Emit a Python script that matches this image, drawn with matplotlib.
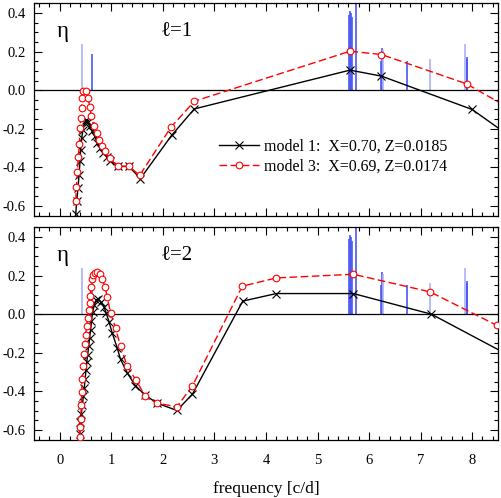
import matplotlib
matplotlib.use("Agg")
import matplotlib.pyplot as plt
from matplotlib.ticker import MultipleLocator, FormatStrFormatter
from matplotlib.lines import Line2D

plt.rcParams['font.family'] = ['Liberation Serif', 'DejaVu Serif']
plt.rcParams['axes.unicode_minus'] = False

# ---------------- data ----------------
# observed frequencies (blue bars): frequency, amplitude, shade (0 = dark, 1 = light)
obs_freq = [0.44, 0.62, 5.615, 5.63, 5.645, 5.66, 5.75, 6.24, 6.25, 6.27, 6.73, 7.19, 7.87, 7.89, 7.90]
obs_amp = [0.24, 0.19, 0.39, 0.41, 0.40, 0.38, 0.50, 0.15, 0.22, 0.21, 0.15, 0.16, 0.24, 0.17, 0.16]
obs_shade = [1, 0, 0, 0, 0, 0, 0, 0, 0, 1, 0, 1, 1, 0, 0]

# l = 1, model 1
l1_m1_f = [0.309, 0.328, 0.354, 0.373, 0.393, 0.405, 0.425, 0.450, 0.482, 0.515, 0.547, 0.585,
           0.631, 0.676, 0.727, 0.779, 0.843, 0.91, 0.98, 1.126, 1.338, 1.564, 2.17, 2.61,
           5.63, 6.24, 8.0, 9.0]
l1_m1_eta = [-0.643, -0.573, -0.507, -0.438, -0.369, -0.308, -0.248, -0.204, -0.170, -0.152, -0.165, -0.187,
             -0.213, -0.239, -0.274, -0.300, -0.326, -0.345, -0.365, -0.395, -0.395, -0.458, -0.234, -0.097,
             0.104, 0.073, -0.100, -0.29]
# l = 1, model 3
l1_m3_f = [0.309, 0.322, 0.341, 0.360, 0.380, 0.393, 0.405, 0.425, 0.438, 0.457, 0.502, 0.547,
           0.585, 0.611, 0.663, 0.714, 0.759, 0.811, 0.869, 0.965, 1.126, 1.338, 1.551, 2.156,
           2.613, 5.63, 6.24, 7.89, 9.0]
l1_m3_eta = [-0.573, -0.504, -0.424, -0.348, -0.279, -0.196, -0.144, -0.092, -0.040, -0.005, -0.002, -0.040,
             -0.088, -0.135, -0.187, -0.222, -0.256, -0.291, -0.317, -0.352, -0.395, -0.395, -0.441, -0.192,
             -0.057, 0.202, 0.185, 0.033, -0.136]
# l = 2, model 1
l2_m1_f = [0.388, 0.400, 0.418, 0.438, 0.457, 0.476, 0.492, 0.508, 0.522, 0.541, 0.560, 0.579,
           0.599, 0.615, 0.637, 0.669, 0.708, 0.747, 0.792, 0.856, 0.901, 0.953, 1.017, 1.113,
           1.178, 1.306, 1.467, 1.66, 1.886, 2.272, 2.574, 3.55, 4.2, 5.695, 7.21, 9.0]
l2_m1_eta = [-0.620, -0.560, -0.515, -0.470, -0.425, -0.380, -0.335, -0.290, -0.250, -0.210, -0.166, -0.123,
             -0.080, -0.035, 0.010, 0.048, 0.074, 0.077, 0.065, 0.039, 0.005, -0.038, -0.097, -0.174,
             -0.234, -0.303, -0.371, -0.420, -0.461, -0.499, -0.414, 0.068, 0.107, 0.107, 0.0, -0.254]
# l = 2, model 3
l2_m3_f = [0.383, 0.390, 0.406, 0.418, 0.425, 0.438, 0.451, 0.470, 0.489, 0.502, 0.521, 0.541,
           0.560, 0.579, 0.592, 0.605, 0.624, 0.650, 0.682, 0.727, 0.772, 0.824, 0.875, 0.920,
           0.985, 1.081, 1.178, 1.306, 1.48, 1.66, 1.886, 2.272, 2.574, 3.54, 4.2, 5.695, 7.18, 8.48, 9.0]
l2_m3_eta = [-0.636, -0.585, -0.542, -0.470, -0.405, -0.337, -0.268, -0.208, -0.157, -0.106, -0.063, -0.020,
             0.022, 0.056, 0.096, 0.142, 0.180, 0.202, 0.214, 0.219, 0.210, 0.185, 0.142, 0.091,
             0.005, -0.072, -0.166, -0.268, -0.343, -0.426, -0.461, -0.480, -0.371, 0.145, 0.188, 0.207, 0.116, -0.058, -0.13]

labels = ["model 1:  X=0.70, Z=0.0185", "model 3:  X=0.69, Z=0.0174"]
panel_titles = ["\u2113=1", "\u2113=2"]
xticks = [0, 1, 2, 3, 4, 5, 6, 7, 8]

# ---------------- figure ----------------
fig = plt.figure(figsize=(5.01, 4.98), dpi=100)
ax1 = fig.add_axes([0.0679, 0.5663, 0.926, 0.4277])
ax2 = fig.add_axes([0.0679, 0.1165, 0.926, 0.4277])

dark_blue = '#4a58f2'
light_blue = '#aab2f6'

panels = [(ax1, l1_m1_f, l1_m1_eta, l1_m3_f, l1_m3_eta, panel_titles[0]),
          (ax2, l2_m1_f, l2_m1_eta, l2_m3_f, l2_m3_eta, panel_titles[1])]

for ax, f1, e1, f3, e3, title in panels:
    cols = [light_blue if s else dark_blue for s in obs_shade]
    ax.vlines(obs_freq, 0, obs_amp, colors=cols, lw=1.2, zorder=1)
    ax.axhline(0, color='black', lw=0.9, zorder=2)
    ax.plot(f1, e1, color='black', lw=1.0, marker='x', ms=5.5, mew=0.8, zorder=3)
    ax.plot(f3, e3, color='red', lw=1.0, dashes=(5.5, 2.5), marker='o', ms=4.8, mew=0.8,
            mfc='white', mec='red', zorder=4)
    ax.set_xlim(-0.5, 8.5)
    ax.set_ylim(-0.652, 0.452)
    ax.xaxis.set_major_locator(MultipleLocator(1))
    ax.xaxis.set_minor_locator(MultipleLocator(0.2))
    ax.yaxis.set_major_locator(MultipleLocator(0.2))
    ax.yaxis.set_minor_locator(MultipleLocator(0.05))
    ax.yaxis.set_major_formatter(FormatStrFormatter('%.1f'))
    ax.tick_params(which='both', direction='in', top=True, right=True, labelsize=10.5)
    ax.tick_params(which='major', length=6, width=0.8)
    ax.tick_params(which='minor', length=3, width=0.8)
    ax.tick_params(axis='x', pad=10)
    ax.tick_params(axis='y', pad=6)
    for s in ax.spines.values():
        s.set_linewidth(0.9)
    ax.text(0.061, 0.868, "\u03b7", transform=ax.transAxes, fontsize=16.5, ha='center', va='center')
    ax.text(0.308, 0.868, title, transform=ax.transAxes, fontsize=15, ha='center', va='center')

ax1.tick_params(labelbottom=False)
ax2.set_xticks(xticks)
ax2.set_xlabel("frequency [c/d]", fontsize=12.5, labelpad=10)

handles = [Line2D([], [], color='black', lw=1.0, marker='x', ms=5.5, mew=0.8),
           Line2D([], [], color='red', lw=1.0, dashes=(5.5, 2.5), marker='o', ms=4.8, mew=0.8,
                  mfc='white', mec='red')]
ax1.legend(handles, labels, loc='center left', bbox_to_anchor=(0.399, 0.279), frameon=False,
           borderpad=0, borderaxespad=0, handlelength=2.5, handletextpad=0.3, labelspacing=0.3,
           fontsize=11.5, numpoints=1)

fig.savefig("out.png", dpi=100)
